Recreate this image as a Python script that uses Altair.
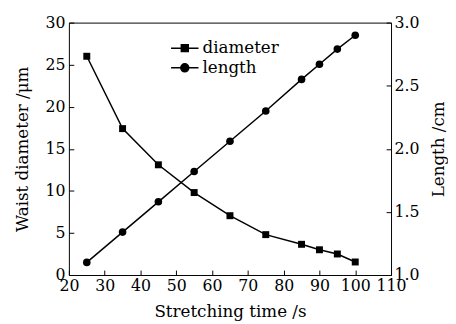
import altair as alt
import pandas as pd

time = [25, 35, 45, 55, 65, 75, 85, 90, 95, 100]
diameter = [26.0, 17.4, 13.1, 9.8, 7.05, 4.8, 3.65, 3.0, 2.5, 1.55]
length = [1.10, 1.34, 1.58, 1.82, 2.06, 2.30, 2.55, 2.67, 2.79, 2.90]
series = ["diameter", "length"]
x_ticks = [20, 30, 40, 50, 60, 70, 80, 90, 100, 110]
left_ticks = [0, 5, 10, 15, 20, 25, 30]
right_ticks = [1.0, 1.5, 2.0, 2.5, 3.0]

df_d = pd.DataFrame({"time": time, "value": diameter, "series": series[0]})
df_l = pd.DataFrame({"time": time, "value": length, "series": series[1]})

FONT = "DejaVu Serif"
FS = 17
LFS = 16
TK = 5

SQ = "M-1.27,0H1.27M-0.32,-0.32H0.32V0.32H-0.32Z"
CI = "M-1.27,0H1.27M0.37,0A0.37,0.37,0,1,1,-0.37,0A0.37,0.37,0,1,1,0.37,0Z"

x_enc = alt.X(
    "time:Q",
    scale=alt.Scale(domain=[20, 110], nice=False),
    axis=alt.Axis(values=x_ticks, title="Stretching time /s", offset=-TK, tickSize=TK,
                  domain=False, grid=False, labelPadding=3, titlePadding=10, format="d",
                  labelOverlap=False, labelFlush=False),
)

color_enc = alt.Color(
    "series:N",
    scale=alt.Scale(domain=series, range=["black", "black"]),
    legend=alt.Legend(
        title=None, orient="none", legendX=106, legendY=14,
        symbolType={"expr": "datum.value === 'diameter' ? '" + SQ + "' : '" + CI + "'"},
        symbolSize=484, symbolFillColor="black", symbolStrokeColor="black",
        symbolStrokeWidth=1.5, labelFont=FONT, labelFontSize=FS, labelOffset=6,
        rowPadding=0, labelColor="black",
    ),
)

y_left = alt.Y(
    "value:Q",
    scale=alt.Scale(domain=[0, 30], nice=False),
    axis=alt.Axis(values=left_ticks, title="Waist diameter /μm", orient="left", offset=-TK,
                  tickSize=TK, domain=False, grid=False, labelPadding=4, titlePadding=14,
                  format="d", labelOverlap=False, labelFlush=False),
)
y_right = alt.Y(
    "value:Q",
    scale=alt.Scale(domain=[1.0, 3.0], nice=False),
    axis=alt.Axis(values=right_ticks, title="Length /cm", orient="right", offset=-TK,
                  tickSize=TK, domain=False, grid=False, labelPadding=3, titlePadding=29,
                  format=".1f", titleAngle=270, labelOverlap=False, labelFlush=False),
)

line_d = alt.Chart(df_d).mark_line(strokeWidth=1.5).encode(x=x_enc, y=y_left, color=color_enc)
pt_d = alt.Chart(df_d).mark_point(shape="square", filled=True, size=50, color="black", opacity=1).encode(x=x_enc, y=y_left)
line_l = alt.Chart(df_l).mark_line(strokeWidth=1.5).encode(x=x_enc, y=y_right, color=color_enc)
pt_l = alt.Chart(df_l).mark_point(shape="circle", filled=True, size=60, color="black", opacity=1).encode(x=x_enc, y=y_right)

left = alt.layer(line_d, pt_d)
right = alt.layer(line_l, pt_l)

chart = (
    alt.layer(left, right)
    .resolve_scale(y="independent")
    .properties(
        width=328, height=257,
        autosize=alt.AutoSizeParams(type="none"),
        padding={"left": 62, "top": 12, "right": 58, "bottom": 47},
    )
    .configure(background="white")
    .configure_view(stroke="black", strokeWidth=1)
    .configure_axis(
        labelFont=FONT, labelFontSize=LFS, titleFont=FONT, titleFontSize=FS,
        titleFontWeight="normal", labelColor="black", titleColor="black", tickColor="black",
    )
)

chart.save("out.html", embed_options={"renderer": "svg", "actions": False})
